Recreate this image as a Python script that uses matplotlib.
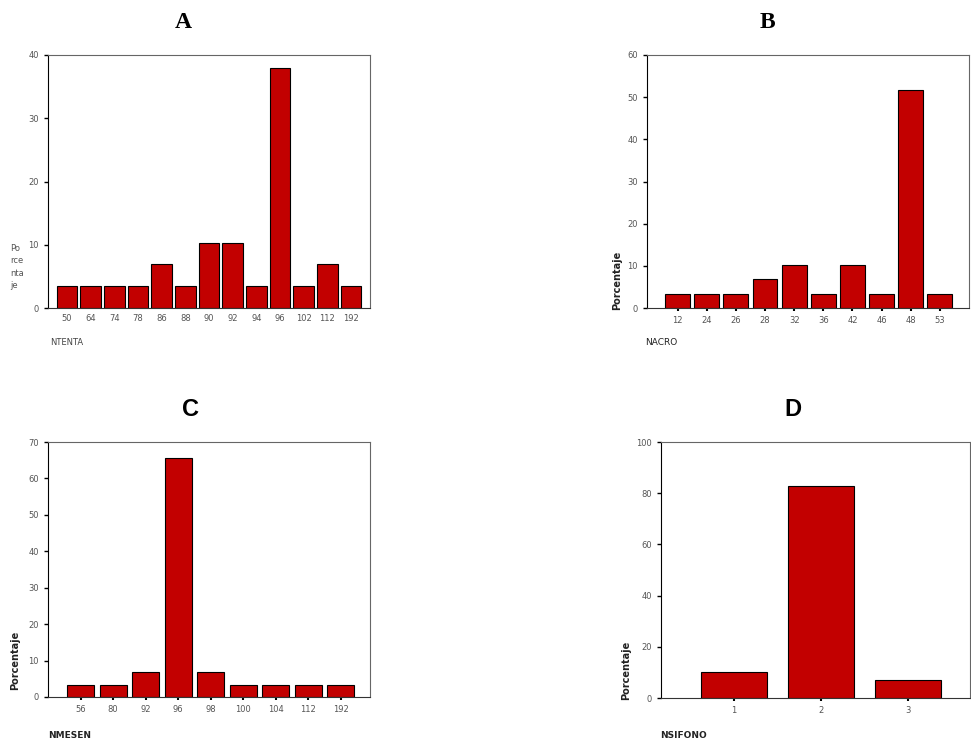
import matplotlib.pyplot as plt
import numpy as np

# Percent of cases per count value (n = 29)
ntenta_labels = ['50', '64', '74', '78', '86', '88', '90', '92', '94', '96', '102', '112', '192']
ntenta_pct = [3.4, 3.4, 3.4, 3.4, 6.9, 3.4, 10.3, 10.3, 3.4, 37.9, 3.4, 6.9, 3.4]

nacro_labels = ['12', '24', '26', '28', '32', '36', '42', '46', '48', '53']
nacro_pct = [3.4, 3.4, 3.4, 6.9, 10.3, 3.4, 10.3, 3.4, 51.7, 3.4]

nmesen_labels = ['56', '80', '92', '96', '98', '100', '104', '112', '192']
nmesen_pct = [3.4, 3.4, 6.9, 65.5, 6.9, 3.4, 3.4, 3.4, 3.4]

nsifono_labels = ['1', '2', '3']
nsifono_pct = [10.3, 82.8, 6.9]

W, H = 971, 744
fig = plt.figure(figsize=(W / 100, H / 100), dpi=100)
BAR = '#c20000'


def px_axes(left, top, right, bottom):
    return fig.add_axes([left / W, 1 - bottom / H, (right - left) / W, (bottom - top) / H])


def hist_panel(ax, labels, pct, ymax, ystep, width, xlim, xticks_marks=True):
    x = np.arange(len(labels))
    ax.bar(x, pct, width=width, color=BAR, edgecolor='black', linewidth=0.8)
    ax.set_xlim(*xlim)
    ax.set_ylim(0, ymax)
    ax.set_yticks(np.arange(0, ymax + 1, ystep))
    ax.set_xticks(x)
    ax.set_xticklabels(labels)
    ax.tick_params(axis='y', length=3, width=1, direction='out', labelsize=6, labelcolor='#555')
    ax.tick_params(axis='x', length=2 if xticks_marks else 0, width=1.5, direction='out',
                   labelsize=6, labelcolor='#555', pad=4)
    for s in ax.spines.values():
        s.set_color('#666')
        s.set_linewidth(0.8)
    ax.spines['left'].set_color('black')
    ax.spines['bottom'].set_color('#333')


# A
axA = px_axes(48, 55, 370, 308)
hist_panel(axA, ntenta_labels, ntenta_pct, 40, 10, 0.88, (-0.8, 12.8), xticks_marks=False)
fig.text(183 / W, 1 - 22 / H, 'A', ha='center', va='center', fontsize=17,
         fontweight='bold', family='Liberation Serif')
fig.text(10 / W, 1 - 267 / H, 'Po\nrce\nnta\nje', ha='left', va='center', fontsize=6,
         color='#555', linespacing=1.5)
fig.text(50 / W, 1 - 343 / H, 'NTENTA', ha='left', va='center', fontsize=6, color='#444')

# B
axB = px_axes(647, 55, 969, 308)
hist_panel(axB, nacro_labels, nacro_pct, 60, 10, 0.85, (-1.05, 10.0))
fig.text(767 / W, 1 - 22 / H, 'B', ha='center', va='center', fontsize=17,
         fontweight='bold', family='Liberation Serif')
fig.text(617 / W, 1 - 280 / H, 'Porcentaje', ha='center', va='center', rotation=90,
         fontsize=7, fontweight='bold', color='#222')
fig.text(645 / W, 1 - 343 / H, 'NACRO', ha='left', va='center', fontsize=6.5, color='#222')

# C
axC = px_axes(48, 442, 370, 697)
hist_panel(axC, nmesen_labels, nmesen_pct, 70, 10, 0.83, (-1.0, 8.9))
fig.text(190 / W, 1 - 410 / H, 'C', ha='center', va='center', fontsize=17,
         fontweight='bold', family='Liberation Sans')
fig.text(15 / W, 1 - 660 / H, 'Porcentaje', ha='center', va='center', rotation=90,
         fontsize=7, fontweight='bold', color='#222')
fig.text(48 / W, 1 - 736 / H, 'NMESEN', ha='left', va='center', fontsize=6.5,
         fontweight='bold', color='#222')

# D
axD = px_axes(661, 442, 970, 698)
hist_panel(axD, nsifono_labels, nsifono_pct, 100, 20, 0.76, (-0.84, 2.71))
fig.text(793 / W, 1 - 410 / H, 'D', ha='center', va='center', fontsize=17,
         fontweight='bold', family='Liberation Sans')
fig.text(626 / W, 1 - 670 / H, 'Porcentaje', ha='center', va='center', rotation=90,
         fontsize=7, fontweight='bold', color='#222')
fig.text(660 / W, 1 - 736 / H, 'NSIFONO', ha='left', va='center', fontsize=6.5,
         fontweight='bold', color='#222')

fig.savefig('out.png', dpi=100)
